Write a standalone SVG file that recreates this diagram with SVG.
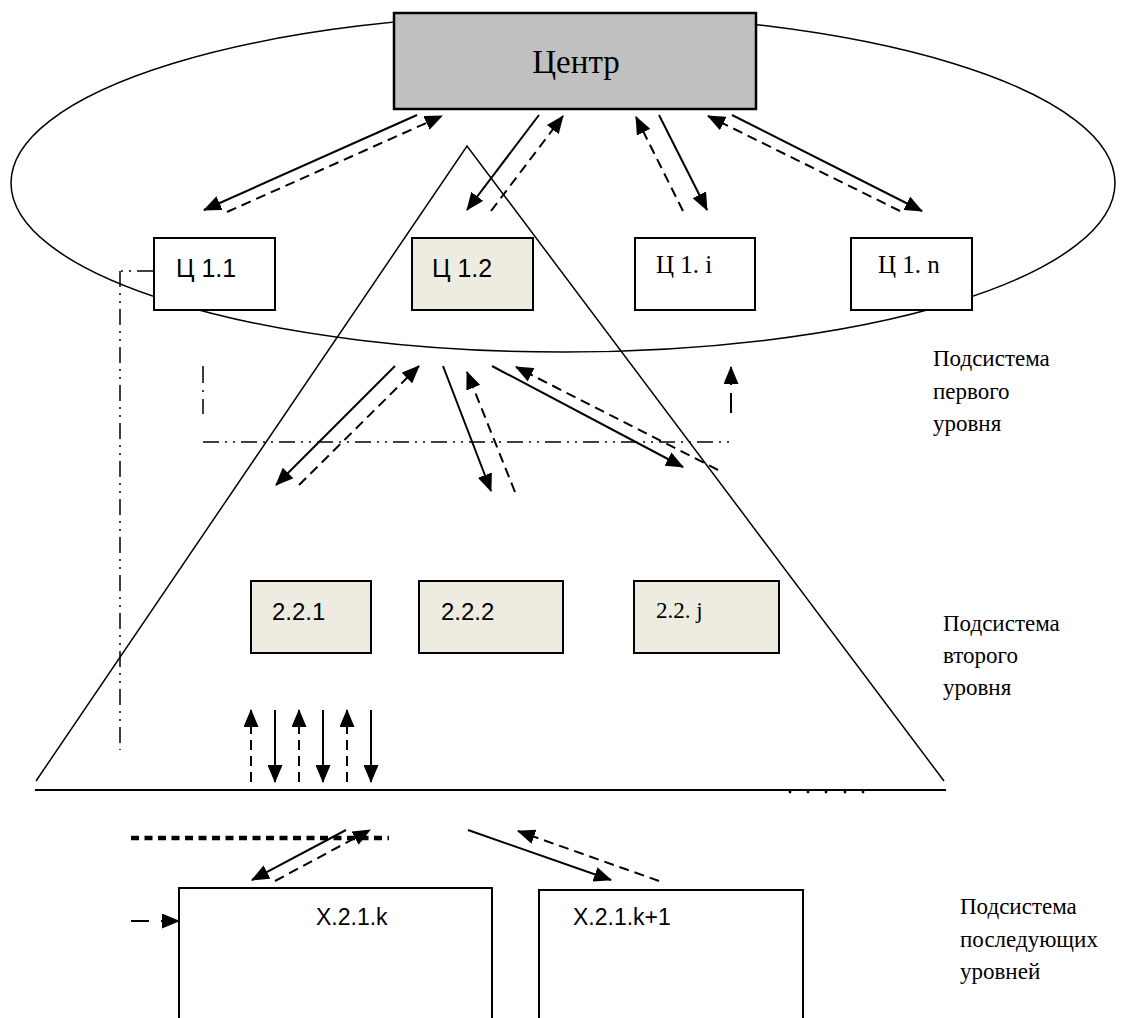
<svg xmlns="http://www.w3.org/2000/svg" width="1139" height="1018" viewBox="0 0 1139 1018">
  <style>
    .bg { fill: #ffffff; }
    .outline { fill: none; stroke: #000; stroke-width: 1.5; }
    .box { fill: #ffffff; stroke: #000; stroke-width: 2; }
    .box-grey { fill: #c0c0c0; stroke: #000; stroke-width: 2.5; }
    .box-beige { fill: #eeebe0; stroke: #000; stroke-width: 2; }
    .solid { fill: none; stroke: #000; stroke-width: 2; marker-end: url(#head); }
    .dashed { fill: none; stroke: #000; stroke-width: 2; stroke-dasharray: 10 6; marker-end: url(#head); }
    .dashdotdot { fill: none; stroke: #000; stroke-width: 1.5; stroke-dasharray: 16 6 2 6 2 6; }
    .dashdot { fill: none; stroke: #000; stroke-width: 1.5; stroke-dasharray: 17 7 2 7; }
    .dots { fill: none; stroke: #000; stroke-width: 4.5; stroke-dasharray: 8 5.5; }
    .serif { font-family: "Liberation Serif", "Times New Roman", serif; fill: #000; }
    .sans { font-family: "Liberation Sans", Arial, sans-serif; fill: #000; }
  </style>
  <defs>
    <marker id="head" markerUnits="userSpaceOnUse" markerWidth="18" markerHeight="15" viewBox="0 0 18 15" refX="17" refY="7.5" orient="auto">
      <path d="M0,0 L18,7.5 L0,15 z" fill="#000"/>
    </marker>
  </defs>

  <rect class="bg" x="0" y="0" width="1139" height="1018"/>

  <!-- first-level subsystem ring and the pyramid of lower levels -->
  <g id="frame">
    <ellipse class="outline" cx="563" cy="183" rx="552" ry="169"/>
    <polyline class="outline" points="36,781 467,146 944,781"/>
    <line x1="35" y1="790" x2="946" y2="790" stroke="#000" stroke-width="2"/>
    <g fill="#000">
      <circle cx="790" cy="792" r="1.4"/>
      <circle cx="808" cy="792" r="1.4"/>
      <circle cx="826" cy="792" r="1.4"/>
      <circle cx="845" cy="792" r="1.4"/>
      <circle cx="863" cy="792" r="1.4"/>
    </g>
    <line class="dots" x1="131" y1="838" x2="389" y2="838"/>
  </g>

  <!-- nodes -->
  <g id="center">
    <rect class="box-grey" x="394" y="13" width="362" height="96"/>
    <text class="serif" x="576" y="73" font-size="33" text-anchor="middle">Центр</text>
  </g>
  <g id="c1-1">
    <rect class="box" x="154" y="238" width="121" height="72"/>
    <text class="sans" x="176" y="277" font-size="25">Ц 1.1</text>
  </g>
  <g id="c1-2">
    <rect class="box-beige" x="412" y="238" width="121" height="72"/>
    <text class="sans" x="432" y="277" font-size="25">Ц 1.2</text>
  </g>
  <g id="c1-i">
    <rect class="box" x="635" y="238" width="120" height="72"/>
    <text class="serif" x="656" y="273" font-size="25">Ц 1. i</text>
  </g>
  <g id="c1-n">
    <rect class="box" x="851" y="238" width="121" height="72"/>
    <text class="serif" x="878" y="273" font-size="25">Ц 1. n</text>
  </g>
  <g id="n2-2-1">
    <rect class="box-beige" x="251" y="581" width="120" height="72"/>
    <text class="sans" x="272" y="620" font-size="24">2.2.1</text>
  </g>
  <g id="n2-2-2">
    <rect class="box-beige" x="419" y="581" width="144" height="72"/>
    <text class="sans" x="441" y="620" font-size="24">2.2.2</text>
  </g>
  <g id="n2-2-j">
    <rect class="box-beige" x="634" y="581" width="145" height="72"/>
    <text class="serif" x="656" y="618" font-size="23">2.2. j</text>
  </g>
  <g id="x-k">
    <path class="box" d="M179,1020 V888 H492 V1020"/>
    <text class="sans" x="316" y="925" font-size="23">X.2.1.k</text>
  </g>
  <g id="x-k1">
    <path class="box" d="M539,1020 V890 H803 V1020"/>
    <text class="sans" x="573" y="925" font-size="23">X.2.1.k+1</text>
  </g>

  <!-- level captions -->
  <g id="captions" class="serif" font-size="23">
    <text x="933" y="366">Подсистема</text>
    <text x="933" y="399">первого</text>
    <text x="933" y="431">уровня</text>
    <text x="943" y="631">Подсистема</text>
    <text x="943" y="663">второго</text>
    <text x="943" y="695">уровня</text>
    <text x="960" y="914">Подсистема</text>
    <text x="960" y="947">последующих</text>
    <text x="960" y="979">уровней</text>
  </g>

  <!-- connectors -->
  <g id="connectors">
    <!-- centre and first-level units -->
    <line class="solid" x1="417" y1="115" x2="204" y2="210"/>
    <line class="dashed" x1="227" y1="212" x2="442" y2="116"/>
    <line class="solid" x1="539" y1="115" x2="467" y2="210"/>
    <line class="dashed" x1="491" y1="211" x2="563" y2="116"/>
    <line class="dashed" x1="683" y1="211" x2="636" y2="117"/>
    <line class="solid" x1="659" y1="115" x2="707" y2="210"/>
    <line class="dashed" x1="900" y1="211" x2="708" y2="116"/>
    <line class="solid" x1="732" y1="115" x2="922" y2="211"/>

    <!-- first level and second-level units -->
    <line class="solid" x1="395" y1="366" x2="276" y2="485"/>
    <line class="dashed" x1="299" y1="485" x2="419" y2="366"/>
    <line class="solid" x1="443" y1="366" x2="491" y2="491"/>
    <line class="dashed" x1="515" y1="492" x2="467" y2="372"/>
    <line class="solid" x1="492" y1="366" x2="683" y2="467"/>
    <line class="dashed" x1="718" y1="470" x2="516" y2="367"/>
    <line fill="none" stroke="#000" stroke-width="2" stroke-dasharray="20 8 200" marker-end="url(#head)" x1="731" y1="413" x2="731" y2="367"/>

    <!-- control boundary lines -->
    <line class="dashdot" x1="203" y1="366" x2="203" y2="414"/>
    <line class="dashdotdot" x1="203" y1="442" x2="730" y2="442"/>
    <line class="dashdotdot" x1="120" y1="271" x2="120" y2="750"/>
    <line fill="none" stroke="#000" stroke-width="1.5" stroke-dasharray="2 6 2 6 20" x1="121" y1="271" x2="154" y2="271"/>

    <!-- second level and the following levels -->
    <line class="dashed" x1="251" y1="782" x2="251" y2="710"/>
    <line class="solid" x1="275" y1="710" x2="275" y2="782"/>
    <line class="dashed" x1="299" y1="782" x2="299" y2="710"/>
    <line class="solid" x1="323" y1="710" x2="323" y2="782"/>
    <line class="dashed" x1="347" y1="782" x2="347" y2="710"/>
    <line class="solid" x1="371" y1="710" x2="371" y2="782"/>

    <!-- lower-level units -->
    <line class="solid" x1="346" y1="830" x2="252" y2="880"/>
    <line class="dashed" x1="275" y1="881" x2="370" y2="830"/>
    <line class="solid" x1="468" y1="830" x2="611" y2="880"/>
    <line class="dashed" x1="659" y1="881" x2="518" y2="831"/>
    <line fill="none" stroke="#000" stroke-width="2" stroke-dasharray="18 12 200" marker-end="url(#head)" x1="131" y1="921" x2="179" y2="921"/>
  </g>
</svg>
